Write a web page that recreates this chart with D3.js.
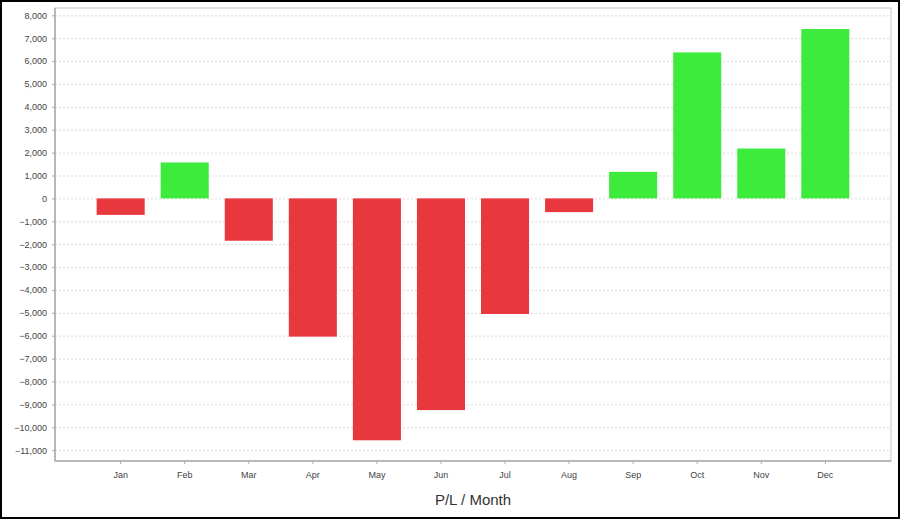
<!DOCTYPE html>
<html lang="en">
<head>
<meta charset="UTF-8">
<title>P/L / Month</title>
<script src="https://d3js.org/d3.v7.min.js"></script>
<style>
    body { margin: 0; background: #fff; }
    svg { display: block; font-family: "Liberation Sans", Arial, sans-serif; }
    .tick text { fill: #444; font-size: 9px; }
</style>
</head>
<body>
<div id="fig"></div>
<script>
    let months = ["Jan", "Feb", "Mar", "Apr", "May", "Jun", "Jul", "Aug", "Sep", "Oct", "Nov", "Dec"]
    let profit = [-720, 1570, -1850, -6040, -10570, -9250, -5050, -600, 1160, 6380, 2180, 7400]
    let yTicks = d3.range(-11000, 8001, 1000)

    let w = 900, h = 519
    let plotLeft = 55, plotRight = 891, plotTop = 8, plotBottom = 461

    let svg = d3.select("#fig").append("svg")
        .attr("width", w)
        .attr("height", h)

    svg.append("rect")
        .attr("x", 1).attr("y", 1)
        .attr("width", w - 2).attr("height", h - 2)
        .attr("fill", "#fff")
        .attr("stroke", "#000")
        .attr("stroke-width", 2)

    let x = d3.scaleBand()
        .domain(months)
        .range([plotLeft, plotRight])
        .paddingInner(0.25)
        .paddingOuter(0.65)

    let y = d3.scaleLinear()
        .domain([-11475, 8320])
        .range([plotBottom, plotTop])

    // plot outline
    svg.append("rect")
        .attr("x", plotLeft).attr("y", plotTop)
        .attr("width", plotRight - plotLeft).attr("height", plotBottom - plotTop)
        .attr("fill", "#fff")
        .attr("stroke", "#c8c8c8")

    // grid
    svg.append("g")
        .selectAll("line")
        .data(yTicks)
        .join("line")
        .attr("x1", plotLeft).attr("x2", plotRight)
        .attr("y1", d => y(d) + 0.5).attr("y2", d => y(d) + 0.5)
        .attr("stroke", "#dadada")
        .attr("stroke-dasharray", "2,2")

    // bars
    svg.append("g")
        .selectAll("rect")
        .data(months)
        .join("rect")
        .attr("x", d => x(d))
        .attr("width", x.bandwidth())
        .attr("y", (d, i) => y(Math.max(0, profit[i])))
        .attr("height", (d, i) => Math.abs(y(profit[i]) - y(0)))
        .attr("fill", (d, i) => profit[i] < 0 ? "#e8383d" : "#3deb3d")

    // axes
    let yAxis = svg.append("g")
        .attr("transform", `translate(${plotLeft},0)`)
        .call(d3.axisLeft(y).tickValues(yTicks).tickSize(3).tickPadding(5)
            .tickFormat(d3.format(",")))
    yAxis.select(".domain").attr("stroke", "#aaa").attr("stroke-width", 1.5)
        .attr("d", `M0,${plotTop}V${plotBottom}`)
    yAxis.selectAll(".tick line").attr("stroke", "#aaa")

    let xAxis = svg.append("g")
        .attr("transform", `translate(0,${plotBottom})`)
        .call(d3.axisBottom(x).tickSize(3).tickPadding(8))
    xAxis.select(".domain").attr("stroke", "#aaa").attr("stroke-width", 1.5)
        .attr("d", `M${plotLeft},0H${plotRight}`)
    xAxis.selectAll(".tick line").attr("stroke", "#aaa")

    svg.append("text")
        .attr("x", (plotLeft + plotRight) / 2)
        .attr("y", 505)
        .attr("text-anchor", "middle")
        .attr("font-size", "15px")
        .attr("fill", "#333")
        .text("P/L / Month")
</script>
</body>
</html>
